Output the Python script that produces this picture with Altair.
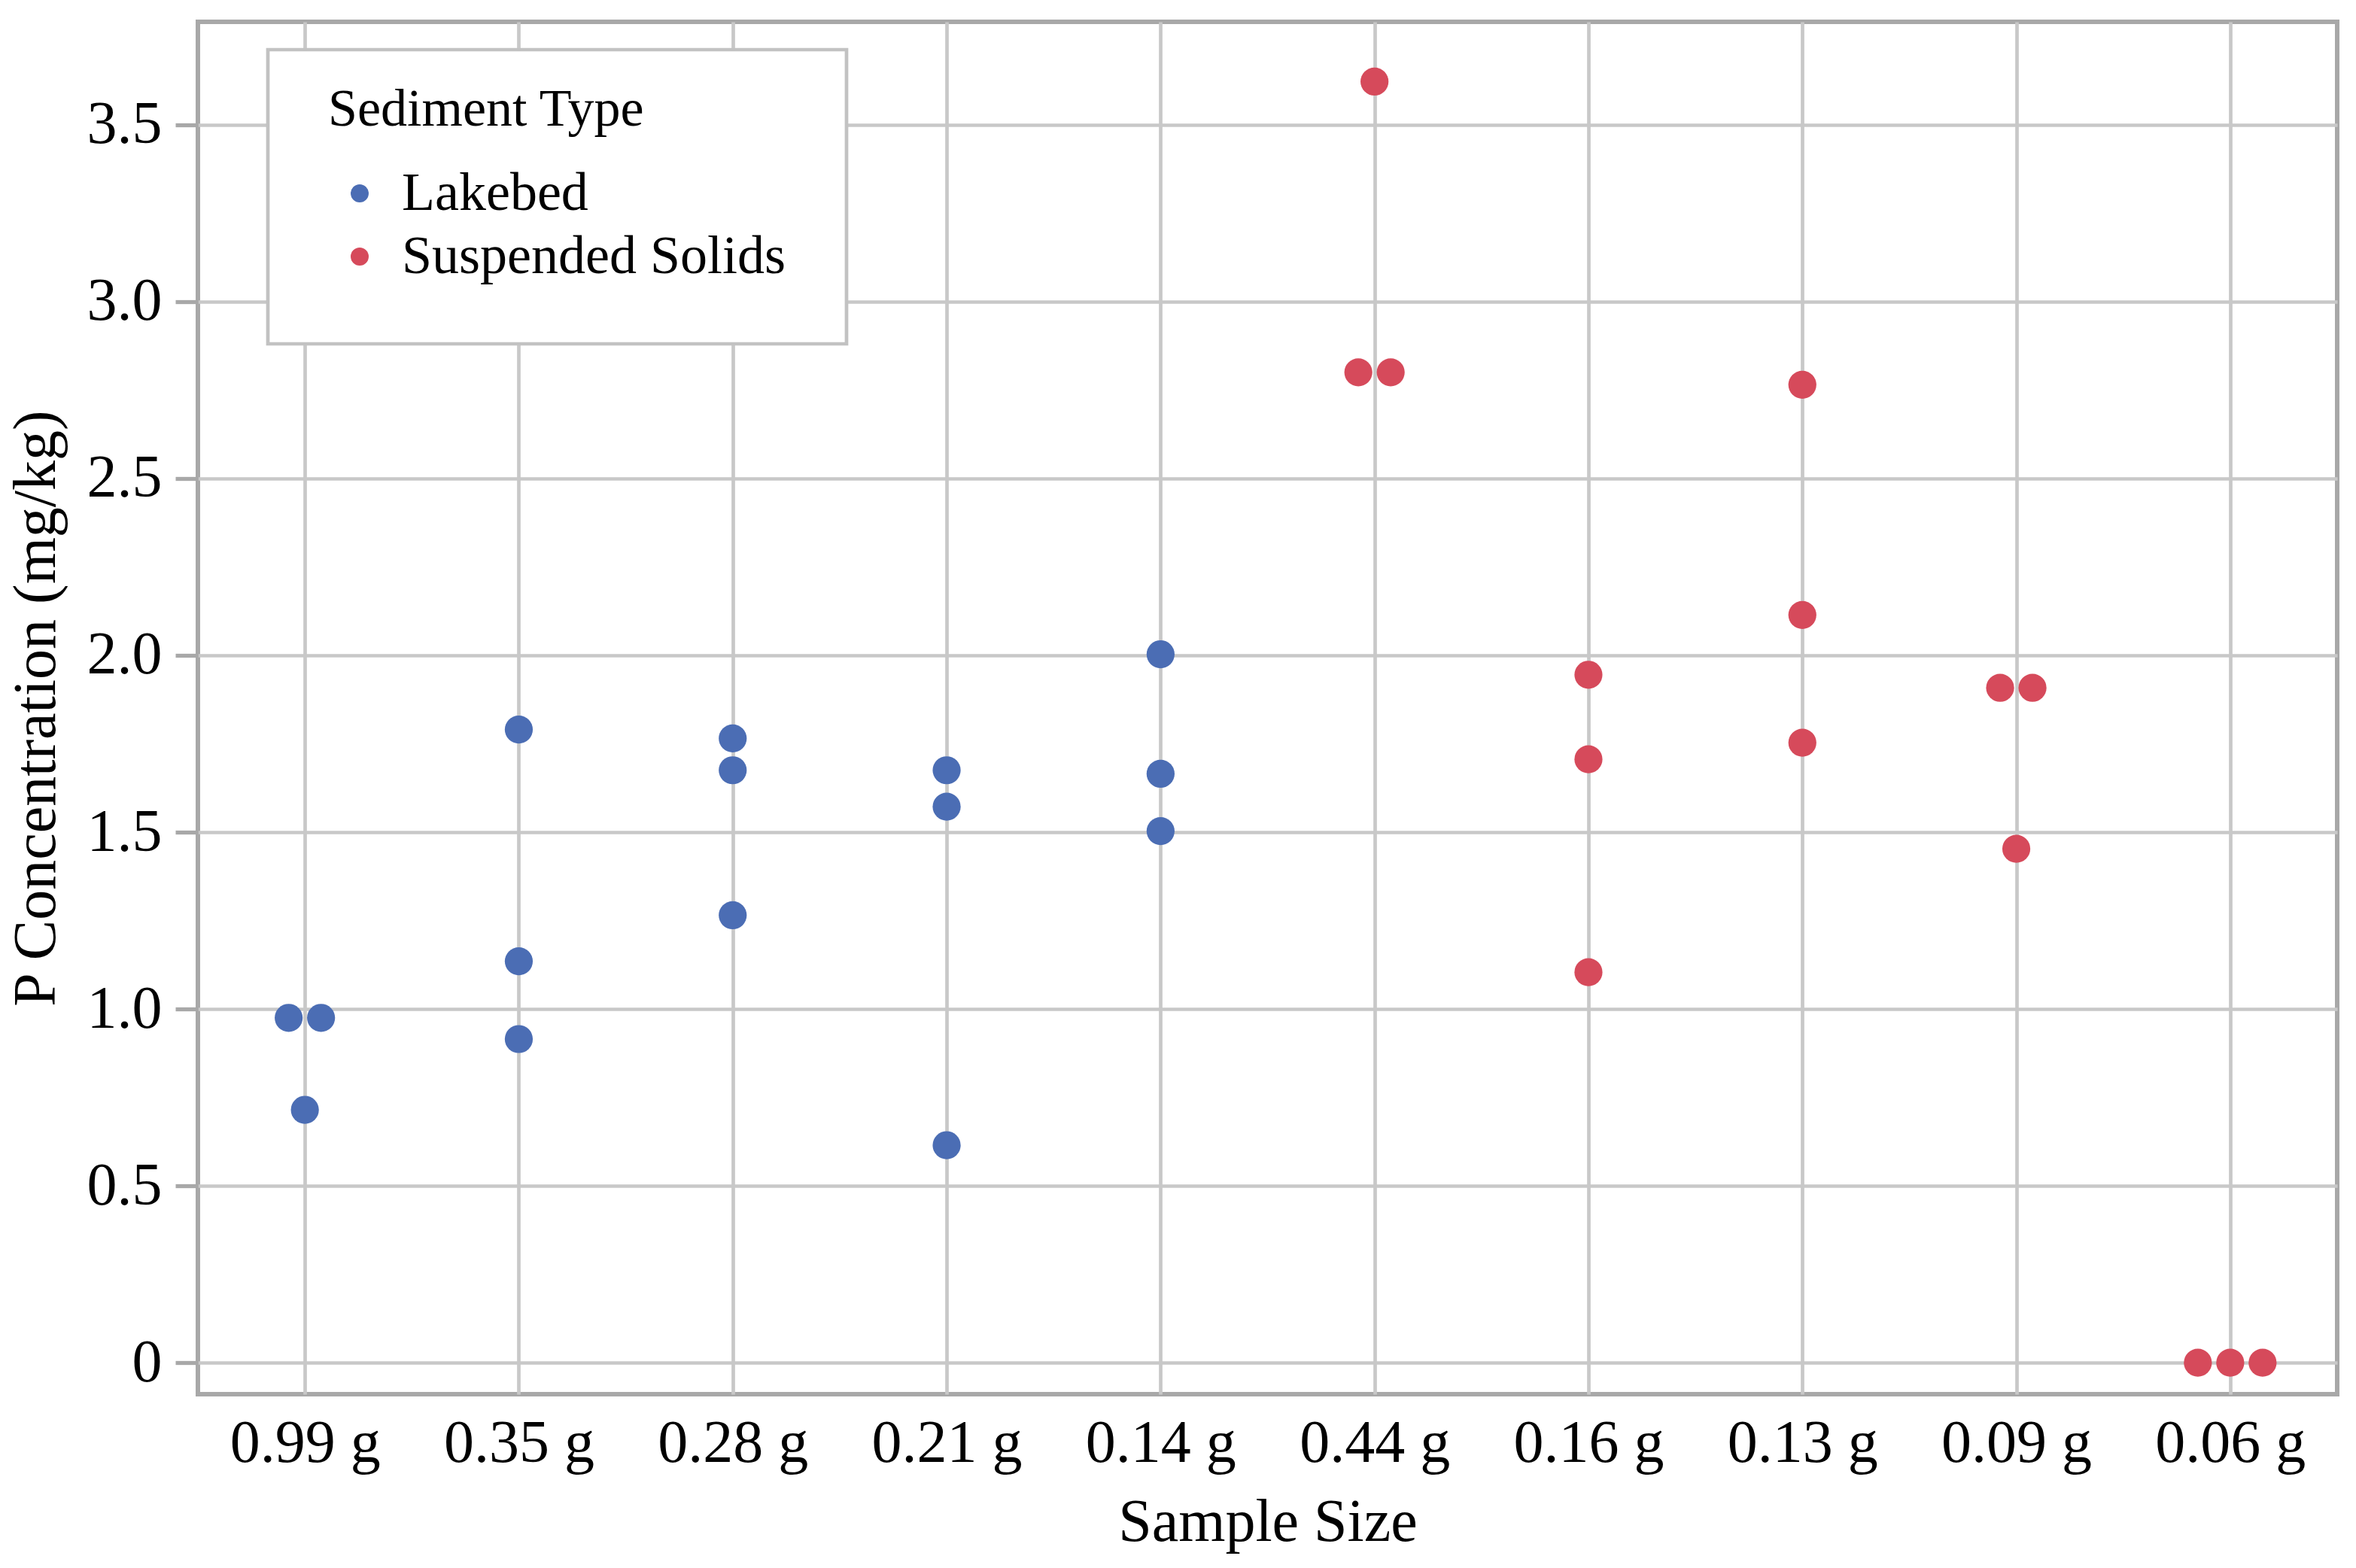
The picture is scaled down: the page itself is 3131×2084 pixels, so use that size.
import altair as alt
import pandas as pd

categories = ["0.99 g", "0.35 g", "0.28 g", "0.21 g", "0.14 g",
              "0.44 g", "0.16 g", "0.13 g", "0.09 g", "0.06 g"]

lakebed = {
    "0.99 g": [0.975, 0.975, 0.715],
    "0.35 g": [1.79, 1.135, 0.915],
    "0.28 g": [1.765, 1.675, 1.265],
    "0.21 g": [1.675, 1.572, 0.615],
    "0.14 g": [2.003, 1.665, 1.503],
}
suspended = {
    "0.44 g": [3.622, 2.80, 2.80],
    "0.16 g": [1.945, 1.706, 1.104],
    "0.13 g": [2.765, 2.114, 1.753],
    "0.09 g": [1.908, 1.908, 1.453],
    "0.06 g": [0.0, 0.0, 0.0],
}

series_names = ["Lakebed", "Suspended Solids"]
series_colors = ["#4b6db4", "#d64a5b"]

rows = []
for name, d in zip(series_names, [lakebed, suspended]):
    for cat, vals in d.items():
        # dodge identical values side by side (swarm-like)
        counts = {}
        for v in vals:
            counts[v] = counts.get(v, 0) + 1
        seen = {}
        for v in vals:
            n = counts[v]
            k = seen.get(v, 0)
            seen[v] = k + 1
            rows.append({"Sample Size": cat, "P": v, "Sediment Type": name,
                         "dodge": k - (n - 1) / 2})
df = pd.DataFrame(rows)

FONT = "Liberation Serif"

chart = alt.Chart(df).mark_circle(size=1385, opacity=1).encode(
    x=alt.X("Sample Size:N", sort=categories,
            scale=alt.Scale(type="point", padding=0.5, domain=categories),
            axis=alt.Axis(title="Sample Size", labelAngle=0, ticks=False,
                          labelPadding=26, labelFontSize=80, titleFontSize=80,
                          labelLimit=1000, labelOverlap=False,
                          titleFontWeight="normal", titleY=194,
                          titleBaseline="alphabetic",
                          grid=True, gridColor="#c8c8c8", gridWidth=4.7,
                          domain=False)),
    xOffset=alt.XOffset("dodge:Q", scale=alt.Scale(domain=[-1, 1], range=[-43, 43])),
    y=alt.Y("P:Q",
            scale=alt.Scale(domain=[-0.089, 3.791], nice=False, zero=False),
            axis=alt.Axis(title="P Concentration (mg/kg)",
                          values=[0, 0.5, 1.0, 1.5, 2.0, 2.5, 3.0, 3.5],
                          labelExpr="datum.value == 0 ? '0' : format(datum.value, '.1f')",
                          tickSize=30, tickWidth=5.3, tickColor="#a8a8a8",
                          labelPadding=18, labelFontSize=80, titleFontSize=80,
                          titleFontWeight="normal", titleX=-191,
                          titleBaseline="alphabetic",
                          grid=True, gridColor="#c8c8c8", gridWidth=4.7,
                          domain=False)),
    color=alt.Color("Sediment Type:N",
                    scale=alt.Scale(domain=series_names, range=series_colors),
                    legend=alt.Legend(orient="none", legendX=93, legendY=37,
                                      title="Sediment Type",
                                      titleFontSize=70, titleFontWeight="normal",
                                      titleBaseline="middle",
                                      labelFontSize=72, symbolSize=573,
                                      symbolType="circle",
                                      padding=80, titlePadding=5, rowPadding=12,
                                      symbolOffset=6, labelOffset=20,
                                      strokeColor="#c2c2c2", fillColor="white",
                                      labelLimit=1000, titleLimit=1000)),
).properties(
    width=2843, height=1824,
    autosize=alt.AutoSizeParams(type="none"),
    padding={"left": 255, "top": 21, "right": 17, "bottom": 223},
).configure(
    font=FONT,
).configure_axis(
    labelFont=FONT, titleFont=FONT, labelColor="black", titleColor="black",
).configure_legend(
    labelFont=FONT, titleFont=FONT, labelColor="black", titleColor="black",
    strokeWidth=4.7,
).configure_view(
    stroke="#a8a8a8", strokeWidth=6,
)

chart.save("out.html", embed_options={"renderer": "svg", "actions": False})
